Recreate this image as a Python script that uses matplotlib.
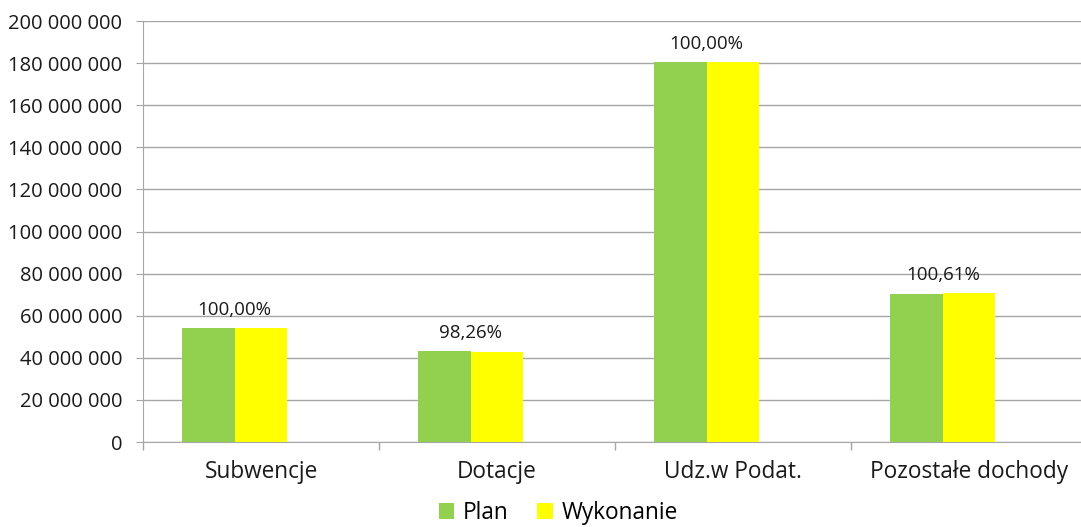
import numpy as np
import matplotlib
matplotlib.use("Agg")
import matplotlib.pyplot as plt
from matplotlib.ticker import FuncFormatter, MultipleLocator

# dane
kategorie = ["Subwencje", "Dotacje", "Udz.w Podat.", "Pozostałe dochody"]
plan = [54300000, 43400000, 180700000, 70400000]
wykonanie = [54300000, 42650000, 180700000, 70830000]
procent = ["100,00%", "98,26%", "100,00%", "100,61%"]

plt.rcParams['font.family'] = ['Open Sans', 'DejaVu Sans']

fig = plt.figure(figsize=(10.81, 5.27), dpi=100)
ax = fig.add_axes([143/1081, 1 - 442/527, (1087 - 143)/1081, (442 - 21)/527])

x = np.arange(len(kategorie))
w = 0.2225
# w Excelu jest trzecia (pusta) seria, dlatego slupki sa przesuniete w lewo
ax.bar(x - w, plan, w, color='#92D050', label='Plan', zorder=3)
ax.bar(x, wykonanie, w, color='#FFFF00', label='Wykonanie', zorder=3)

for i, txt in enumerate(procent):
    top = max(plan[i], wykonanie[i])
    ax.annotate(txt, (x[i] - w/2, top), xytext=(0, 9), textcoords='offset pixels',
                ha='center', va='bottom', fontsize=13.5, color='#1a1a1a', zorder=4)

ax.set_xlim(-0.5, len(kategorie) - 0.5)
ax.set_ylim(0, 200000000)
ax.yaxis.set_major_locator(MultipleLocator(20000000))
ax.yaxis.set_major_formatter(FuncFormatter(lambda v, p: f"{int(v):,}".replace(",", " ")))
ax.grid(axis='y', color='#A6A6A6', linewidth=1, zorder=0)

ax.set_xticks(x)
ax.set_xticklabels(kategorie, fontsize=16.3)
ax.tick_params(axis='x', length=0, pad=13)
ax.set_xticks(np.arange(-0.5, len(kategorie)), minor=True)
ax.tick_params(axis='x', which='minor', length=6, color='#A6A6A6', width=1)
ax.tick_params(axis='y', length=5, color='#A6A6A6', labelsize=14.5, pad=10)
for lab in ax.get_xticklabels() + ax.get_yticklabels():
    lab.set_color('#1a1a1a')

for s in ['top', 'right']:
    ax.spines[s].set_visible(False)
for s in ['left', 'bottom']:
    ax.spines[s].set_color('#A6A6A6')

fig.legend(loc='center', bbox_to_anchor=(558/1081, 1 - 513/527), ncol=2, frameon=False,
           fontsize=16.3, handlelength=0.7, handleheight=0.7, handletextpad=0.35, columnspacing=1.3)

fig.savefig("out.png", dpi=100)
